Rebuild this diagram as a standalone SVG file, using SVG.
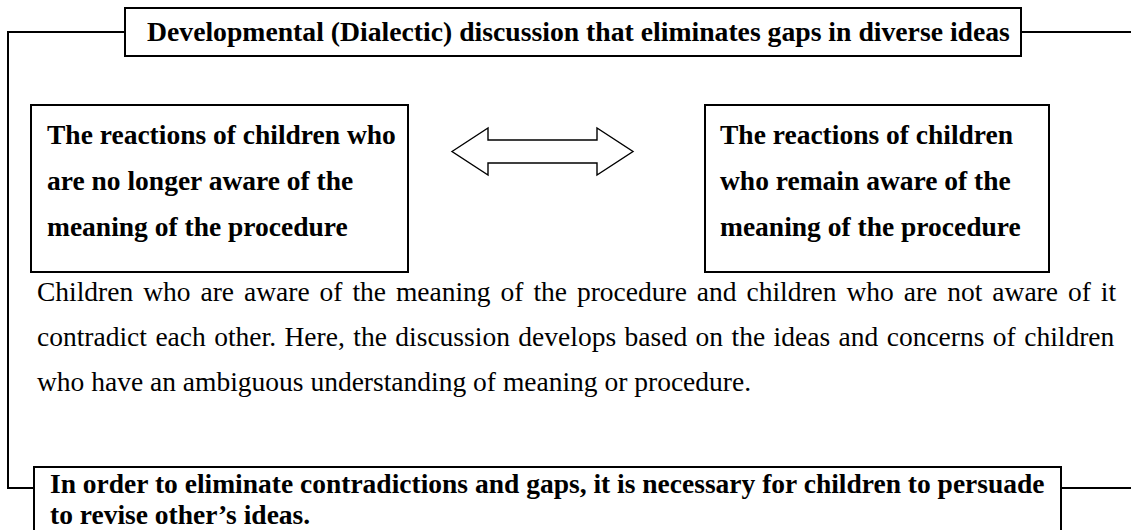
<svg xmlns="http://www.w3.org/2000/svg" width="1131" height="530" viewBox="0 0 1131 530">
  <style>
    .box { fill: #ffffff; stroke: #000000; stroke-width: 2; }
    .frame { fill: none; stroke: #000000; stroke-width: 2; }
    .arrow { fill: #ffffff; stroke: #000000; stroke-width: 1.4; stroke-linejoin: miter; }
    .b { font-family: "Liberation Serif", "Times New Roman", serif; font-weight: bold; font-size: 27.5px; fill: #000000; }
    .r { font-family: "Liberation Serif", "Times New Roman", serif; font-weight: normal; font-size: 27.5px; fill: #000000; }
  </style>
  <rect width="1131" height="530" fill="#ffffff"/>

  <g id="connectors">
    <polyline class="frame" points="125,32 8,32 8,488 34,488"/>
    <line class="frame" x1="1021" y1="32" x2="1131" y2="32"/>
    <line class="frame" x1="1061" y1="488" x2="1131" y2="488"/>
    <polygon id="double-arrow" class="arrow" points="452,151.5 488,128 488,140 597,140 597,128 633,151.5 597,175 597,163 488,163 488,175"/>
  </g>

  <g id="title">
    <rect class="box" x="125" y="8" width="896" height="48"/>
    <text class="b" x="147" y="41" style="font-size:27.7px">Developmental (Dialectic) discussion that eliminates gaps in diverse ideas</text>
  </g>

  <g id="node-left">
    <rect class="box" x="31" y="105" width="377" height="167"/>
    <text class="b" x="47" y="144">The reactions of children who</text>
    <text class="b" x="47" y="190">are no longer aware of the</text>
    <text class="b" x="47" y="236">meaning of the procedure</text>
  </g>

  <g id="node-right">
    <rect class="box" x="705" y="105" width="344" height="167"/>
    <text class="b" x="720" y="144">The reactions of children</text>
    <text class="b" x="720" y="190">who remain aware of the</text>
    <text class="b" x="720" y="236">meaning of the procedure</text>
  </g>

  <g id="description">
    <text class="r" x="37" y="301" word-spacing="3.06">Children who are aware of the meaning of the procedure and children who are not aware of it</text>
    <text class="r" x="37" y="346" word-spacing="1.57">contradict each other. Here, the discussion develops based on the ideas and concerns of children</text>
    <text class="r" x="37" y="391">who have an ambiguous understanding of meaning or procedure.</text>
  </g>

  <g id="conclusion">
    <rect class="box" x="34" y="467" width="1027" height="80"/>
    <text class="b" x="50" y="493">In order to eliminate contradictions and gaps, it is necessary for children to persuade</text>
    <text class="b" x="50" y="523.5">to revise other’s ideas.</text>
  </g>
</svg>
